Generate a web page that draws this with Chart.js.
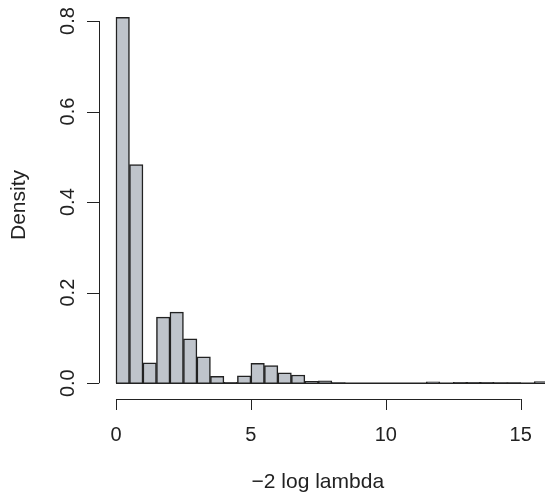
<!DOCTYPE html>
<html>
<head>
<meta charset="utf-8">
<script src="https://cdn.jsdelivr.net/npm/chart.js@4.4.1/dist/chart.umd.min.js"></script>
<style>
  html, body { margin:0; padding:0; background:#fff; }
  #wrap { width:545px; height:493px; overflow:hidden; position:relative; }
  #chart { position:absolute; left:0; top:0; }
</style>
</head>
<body>
<div id="wrap"><canvas id="chart" width="600" height="493"></canvas></div>
<script>
/* histogram of -2 log lambda, bins of width 0.5 */
const binStarts = [0,0.5,1,1.5,2,2.5,3,3.5,4,4.5,5,5.5,6,6.5,7,7.5,8,8.5,9,9.5,10,10.5,11,11.5,12,12.5,13,13.5,14,14.5,15,15.5];
const binWidth = 0.5;
const density = [0.808,0.483,0.045,0.146,0.157,0.098,0.058,0.015,0.002,0.016,0.044,0.039,0.023,0.018,0.004,0.005,0.0015,0,0,0,0,0,0,0.003,0,0.002,0.002,0.002,0.0015,0.0015,0,0.0035];
const xTicks = [0,5,10,15];
const yTicks = [0,0.2,0.4,0.6,0.8];
const yTickLabels = ['0.0','0.2','0.4','0.6','0.8'];
const xTitle = '\u22122 log lambda';
const yTitle = 'Density';

const FONT = '20px "Liberation Sans", Arial, sans-serif';
const TITLE_FONT = '21px "Liberation Sans", Arial, sans-serif';
const INK = '#222';

// R style axes: line only from first to last tick, ticks outside
const rAxes = {
  id: 'rAxes',
  afterDatasetsDraw(chart) {
    const { ctx, scales: { x, y } } = chart;
    ctx.save();
    // bottom edges of the bins (R draws them even for empty bins)
    ctx.strokeStyle = '#222';
    ctx.lineWidth = 1.5;
    ctx.beginPath();
    ctx.moveTo(x.getPixelForValue(binStarts[0]), y.getPixelForValue(0));
    ctx.lineTo(x.getPixelForValue(binStarts[binStarts.length-1] + binWidth), y.getPixelForValue(0));
    ctx.stroke();

    ctx.strokeStyle = INK;
    ctx.lineWidth = 1;
    ctx.fillStyle = INK;
    ctx.font = FONT;

    // x axis
    const ax = 399;
    ctx.beginPath();
    ctx.moveTo(x.getPixelForValue(xTicks[0]), ax + 0.5);
    ctx.lineTo(x.getPixelForValue(xTicks[xTicks.length-1]), ax + 0.5);
    xTicks.forEach(t => {
      const px = Math.round(x.getPixelForValue(t)) + 0.5;
      ctx.moveTo(px, ax);
      ctx.lineTo(px, ax + 11);
    });
    ctx.stroke();
    ctx.textAlign = 'center';
    ctx.textBaseline = 'alphabetic';
    xTicks.forEach(t => ctx.fillText(String(t), x.getPixelForValue(t), 441));
    ctx.font = TITLE_FONT;
    ctx.fillText(xTitle, x.getPixelForValue(7.48), 488);
    ctx.font = FONT;

    // y axis
    const ay = 99;
    ctx.beginPath();
    ctx.moveTo(ay + 0.5, y.getPixelForValue(yTicks[0]));
    ctx.lineTo(ay + 0.5, y.getPixelForValue(yTicks[yTicks.length-1]));
    yTicks.forEach(t => {
      const py = Math.round(y.getPixelForValue(t)) + 0.5;
      ctx.moveTo(ay, py);
      ctx.lineTo(ay - 12, py);
    });
    ctx.stroke();
    yTicks.forEach((t, i) => {
      ctx.save();
      ctx.translate(73.5, y.getPixelForValue(t));
      ctx.rotate(-Math.PI / 2);
      ctx.textAlign = 'center';
      ctx.fillText(yTickLabels[i], 0, 0);
      ctx.restore();
    });
    ctx.save();
    ctx.font = TITLE_FONT;
    ctx.translate(25, 205);
    ctx.rotate(-Math.PI / 2);
    ctx.textAlign = 'center';
    ctx.fillText(yTitle, 0, 0);
    ctx.restore();
    ctx.restore();
  }
};

new Chart(document.getElementById('chart'), {
  type: 'bar',
  data: {
    datasets: [{
      data: binStarts.map((b, i) => ({ x: b + binWidth / 2, y: density[i] })),
      backgroundColor: '#bfc4cb',
      borderColor: '#222',
      borderWidth: 1.5,
      borderSkipped: 'start',
      barPercentage: 1,
      categoryPercentage: 1
    }]
  },
  plugins: [rAxes],
  options: {
    responsive: false,
    animation: false,
    layout: { padding: { left: 98.7, right: 35, top: 2.8, bottom: 95.2 } },
    plugins: { legend: { display: false }, tooltip: { enabled: false } },
    scales: {
      x: { type: 'linear', min: -0.64, max: 16.64, display: false, offset: false },
      y: { min: -0.0323, max: 0.8403, display: false }
    }
  }
});
</script>
</body>
</html>
